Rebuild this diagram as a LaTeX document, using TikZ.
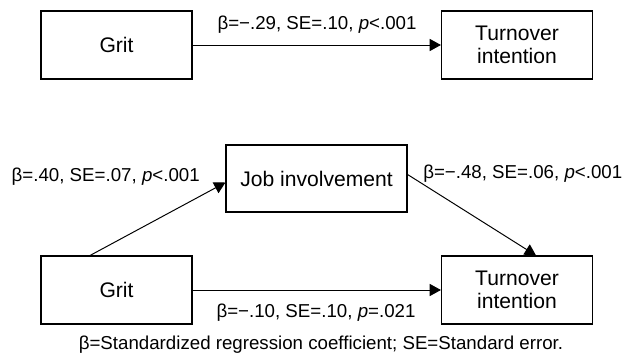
\documentclass[tikz,border=0pt]{standalone}
\usepackage{fontspec}
\setmainfont{Liberation Sans}
\usetikzlibrary{arrows.meta}

\begin{document}
\begin{tikzpicture}[box/.style={draw, line width=0.8pt, minimum width=3.775cm, minimum height=1.7cm, align=center, font=\fontsize{15}{16.1}\selectfont},
  lbl/.style={inner sep=0pt, font=\fontsize{13.3}{16}\selectfont},
  pil/.style={-{Triangle[length=0.28cm, width=0.3cm]}, line width=0.7pt}]

\useasboundingbox (0,0) rectangle (15.8,8.975);

\node [box] (grit1) at (2.9125,7.85) {Grit};
\node [box] (turn1) at (12.925,7.85) {Turnover\\intention};
\draw [pil] (grit1) -- (turn1);
\node [lbl] (beta1) at (7.925,8.35) {β=−.29, SE=.10, \textit{p}<.001};


\node [box, minimum width=4.525cm, minimum height=1.675cm] (job) at (7.9125,4.5125) {Job involvement};
\node [box] (grit2) at (2.9125,1.725) {Grit};
\node [box] (turn2) at (12.925,1.725) {Turnover\\intention};
\draw [pil] ([xshift=-0.66cm]grit2.north) -- ([yshift=-0.1cm]job.west);
\draw [pil] ([yshift=0.1cm]job.east) -- ([xshift=0.475cm]turn2.north);
\draw [pil] (grit2) -- (turn2);
\node [lbl, left] (beta2) at (5.0,4.55) {β=.40, SE=.07, \textit{p}<.001};
\node [lbl, right] (beta3) at (10.575,4.625) {β=−.48, SE=.06, \textit{p}<.001};
\node [lbl] (beta4) at (7.9,1.15) {β=−.10, SE=.10, \textit{p}=.021};

\node [lbl] (note) at (8.025,0.35) {β=Standardized regression coefficient; SE=Standard error.};

\end{tikzpicture}
\end{document}
